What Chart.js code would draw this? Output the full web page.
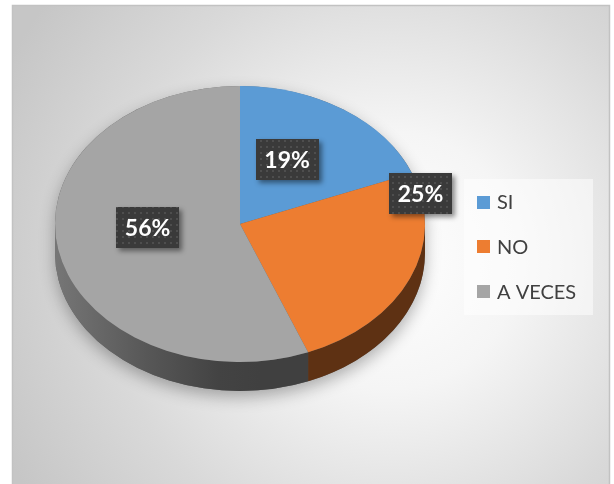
<!DOCTYPE html>
<html>
<head>
<meta charset="utf-8">
<style>
  html, body { margin: 0; padding: 0; background: #ffffff; }
  #wrap { width: 614px; height: 484px; }
  canvas { display: block; }
</style>
<script src="https://cdn.jsdelivr.net/npm/chart.js@4/dist/chart.umd.min.js"></script>
</head>
<body>
<div id="wrap"><canvas id="chart" width="614" height="484"></canvas></div>
<script>
// Survey answers and their shares (%)
const categories = ['SI', 'NO', 'A VECES'];
const percentages = [19, 25, 56];

// Slice colours (top face) and the darker tone used for the rim
const topColors = ['#5B9BD5', '#ED7D31', '#A5A5A5'];
const rimColors = ['#2f5d88', '#5e3113', '#404040'];

// Where each value label sits inside its slice:
// fraction along the slice's sweep, and fraction of the radius
const labelSweep = [0.42, 0.10, 0.54];
const labelRadius = [0.53, 1.00, 0.50];

const TILT = 0.746;      // vertical squash of the pie disc
const DEPTH = 29;        // thickness of the rim in px
const LIFT = 18;         // moves the squashed disc up a little

function makeDotPattern(ctx) {
  const tile = document.createElement('canvas');
  tile.width = 6; tile.height = 6;
  const t = tile.getContext('2d');
  t.fillStyle = '#3a3a3a';
  t.fillRect(0, 0, 6, 6);
  t.fillStyle = '#4e4e4e';
  t.fillRect(2, 2, 2, 2);
  return ctx.createPattern(tile, 'repeat');
}

const backdrop = {
  id: 'backdrop',
  beforeDraw(chart) {
    const ctx = chart.ctx;
    ctx.save();
    ctx.fillStyle = '#ffffff';
    ctx.fillRect(0, 0, chart.width, chart.height);
    const g = ctx.createRadialGradient(390, 260, 0, 390, 260, 430);
    g.addColorStop(0, '#ffffff');
    g.addColorStop(0.3, '#f5f5f5');
    g.addColorStop(0.68, '#d9d9d9');
    g.addColorStop(1, '#c6c6c6');
    ctx.fillStyle = g;
    ctx.fillRect(12, 5, 598, chart.height);
    ctx.strokeStyle = '#c2c2c2';
    ctx.lineWidth = 1.5;
    ctx.strokeRect(12.5, 5.5, 597, chart.height + 10);
    ctx.restore();
  }
};

function discGeometry(chart) {
  const arc = chart.getDatasetMeta(0).data[0];
  const cx = arc.x, cy = arc.y, r = arc.outerRadius;
  return { cx, cy, r, ry: r * TILT, ey: cy - LIFT };
}

const pie3d = {
  id: 'pie3d',
  beforeDatasetsDraw(chart) {
    const ctx = chart.ctx;
    const { cx, cy, r, ry, ey } = discGeometry(chart);
    const arcs = chart.getDatasetMeta(0).data;

    // soft shadow under the whole disc
    ctx.save();
    ctx.shadowColor = 'rgba(0,0,0,0.30)';
    ctx.shadowBlur = 16;
    ctx.shadowOffsetY = 6;
    ctx.beginPath();
    ctx.ellipse(cx, ey, r, ry, 0, Math.PI, 2 * Math.PI);
    ctx.ellipse(cx, ey + DEPTH, r, ry, 0, 0, Math.PI);
    ctx.closePath();
    ctx.fillStyle = '#606060';
    ctx.fill();
    ctx.restore();

    // rim: front-facing part of every slice
    arcs.forEach((a, i) => {
      const s = Math.max(a.startAngle, 0);
      const e = Math.min(a.endAngle, Math.PI);
      if (e <= s) return;
      ctx.save();
      ctx.beginPath();
      ctx.ellipse(cx, ey, r, ry, 0, s, e);
      ctx.ellipse(cx, ey + DEPTH, r, ry, 0, e, s, true);
      ctx.closePath();
      if (i === 2) {
        const g = ctx.createLinearGradient(cx - r, 0, cx + 20, 0);
        g.addColorStop(0, '#767676');
        g.addColorStop(0.45, '#575757');
        g.addColorStop(0.8, '#434343');
        g.addColorStop(1, rimColors[i]);
        ctx.fillStyle = g;
      } else {
        ctx.fillStyle = rimColors[i];
      }
      ctx.fill();
      ctx.restore();
    });

    // squash the top face into an ellipse
    ctx.save();
    ctx.translate(cx, ey);
    ctx.scale(1, TILT);
    ctx.translate(-cx, -cy);
  },
  afterDatasetsDraw(chart) {
    const ctx = chart.ctx;
    ctx.restore();

    const { cx, r, ry, ey } = discGeometry(chart);
    const arcs = chart.getDatasetMeta(0).data;
    const pattern = makeDotPattern(ctx);

    // value labels in dark boxes
    arcs.forEach((a, i) => {
      const ang = a.startAngle + labelSweep[i] * (a.endAngle - a.startAngle);
      const x = cx + labelRadius[i] * r * Math.cos(ang);
      const y = ey + labelRadius[i] * ry * Math.sin(ang);
      const w = 63, h = 41;
      ctx.save();
      ctx.shadowColor = 'rgba(0,0,0,0.45)';
      ctx.shadowBlur = 5;
      ctx.shadowOffsetX = 3;
      ctx.shadowOffsetY = 3;
      ctx.fillStyle = '#3a3a3a';
      ctx.fillRect(Math.round(x - w / 2), Math.round(y - h / 2), w, h);
      ctx.restore();
      ctx.save();
      ctx.fillStyle = pattern;
      ctx.fillRect(Math.round(x - w / 2), Math.round(y - h / 2), w, h);
      ctx.fillStyle = '#ffffff';
      ctx.font = 'bold 23px Lato';
      ctx.textAlign = 'center';
      ctx.textBaseline = 'middle';
      ctx.fillText(percentages[i] + '%', x, y + 1);
      ctx.restore();
    });

    // legend panel
    const lx = 464, ly = 179, lw = 129, lh = 136;
    ctx.save();
    ctx.fillStyle = 'rgba(255,255,255,0.5)';
    ctx.fillRect(lx, ly, lw, lh);
    ctx.font = '20px Lato';
    ctx.textBaseline = 'middle';
    categories.forEach((c, i) => {
      const my = 202 + i * 44.7;
      ctx.fillStyle = topColors[i];
      ctx.fillRect(477, Math.round(my - 6.5), 13, 13);
      ctx.fillStyle = '#404040';
      ctx.fillText(c, 497, my + 1);
    });
    ctx.restore();
  }
};

function build() {
  new Chart(document.getElementById('chart'), {
    type: 'pie',
    data: {
      labels: categories,
      datasets: [{
        data: percentages,
        backgroundColor: topColors,
        borderWidth: 0,
        hoverOffset: 0
      }]
    },
    options: {
      responsive: false,
      animation: false,
      events: [],
      layout: { padding: { left: 55, right: 189, top: 57, bottom: 57 } },
      plugins: {
        legend: { display: false },
        tooltip: { enabled: false }
      }
    },
    plugins: [backdrop, pie3d]
  });
}

if (document.fonts && document.fonts.load) {
  Promise.all([
    document.fonts.load('bold 23px Lato'),
    document.fonts.load('20px Lato')
  ]).then(build, build);
} else {
  build();
}
</script>
</body>
</html>
